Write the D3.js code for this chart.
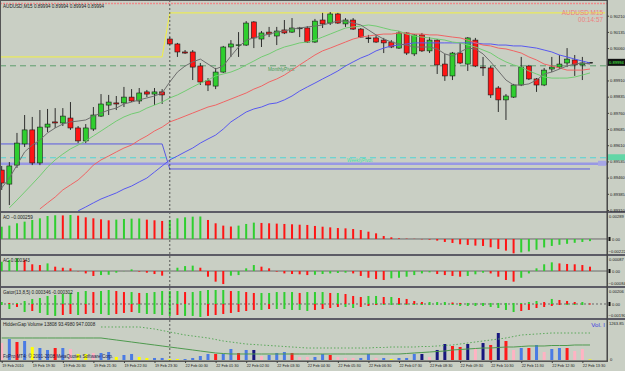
<!DOCTYPE html>
<html>
<head>
<meta charset="utf-8">
<script src="https://cdn.jsdelivr.net/npm/d3@7"></script>
<style>
body { margin: 0; background: #c9cfc4; }
svg { display: block; }
text { font-family: "Liberation Sans", Arial, sans-serif; }
</style>
</head>
<body>
<script>
//Chart data
var symbolName = "AUDUSD,M15";
var lastPrice = 0.89994;
var clockText = "00:14:57";

var timeLabels = ["19 Feb 2010", "19 Feb 19:30", "19 Feb 20:30", "19 Feb 21:30", "19 Feb 22:30",
  "19 Feb 23:30", "22 Feb 00:30", "22 Feb 01:30", "22 Feb 02:30", "22 Feb 03:30", "22 Feb 04:30",
  "22 Feb 05:30", "22 Feb 06:30", "22 Feb 07:30", "22 Feb 08:30", "22 Feb 09:30", "22 Feb 10:30",
  "22 Feb 11:30", "22 Feb 12:30", "22 Feb 13:30"];
var labelEvery = 4;          //one time label every 4 bars (1 hour)
var dayStartBar = [0, 22];   //first bar of 19 Feb and of 22 Feb

var priceTicks = [0.90210, 0.90135, 0.90060, 0.89985, 0.89910, 0.89835, 0.89760,
  0.89685, 0.89610, 0.89535, 0.89460, 0.89385, 0.89310];

var candleOpen = [0.89495,0.89430,0.89518,0.89616,0.89681,0.89528,0.89694,0.89718,0.89713,0.89736,
  0.89690,0.89630,0.89685,0.89745,0.89796,0.89806,0.89806,0.89833,0.89815,0.89857,
  0.89847,0.89857,0.90102,0.90079,0.90042,0.90042,0.89977,0.89908,0.89884,0.89949,
  0.90065,0.90074,0.90074,0.90181,0.90102,0.90134,0.90116,0.90144,0.90134,0.90153,
  0.90153,0.90088,0.90190,0.90176,0.90218,0.90172,0.90190,0.90148,0.90107,0.90107,
  0.90097,0.90088,0.90060,0.90130,0.90033,0.90121,0.90047,0.90097,0.89986,0.89931,
  0.90037,0.89986,0.90097,0.89972,0.89968,0.89875,0.89820,0.89833,0.89889,0.89977,
  0.89917,0.89889,0.89963,0.89972,0.89991,0.90005,0.89982,0.89994];
var candleHigh = [0.89514,0.89532,0.89667,0.89750,0.89741,0.89773,0.89778,0.89782,0.89782,0.89810,
  0.89699,0.89708,0.89787,0.89847,0.89843,0.89838,0.89880,0.89870,0.89875,0.89866,
  0.89875,0.89870,0.90111,0.90084,0.90051,0.90051,0.89991,0.89921,0.89968,0.90070,
  0.90097,0.90134,0.90185,0.90185,0.90139,0.90158,0.90158,0.90190,0.90199,0.90158,
  0.90162,0.90195,0.90223,0.90227,0.90223,0.90199,0.90199,0.90153,0.90121,0.90121,
  0.90107,0.90097,0.90139,0.90134,0.90125,0.90130,0.90111,0.90102,0.90033,0.90042,
  0.90084,0.90111,0.90107,0.90019,0.89977,0.89884,0.89847,0.89894,0.90019,0.89982,
  0.89921,0.89968,0.90019,0.90028,0.90060,0.90028,0.90019,0.89994];
var candleLow = [0.89403,0.89333,0.89505,0.89602,0.89518,0.89518,0.89671,0.89690,0.89699,0.89681,
  0.89620,0.89620,0.89676,0.89741,0.89750,0.89773,0.89787,0.89810,0.89801,0.89833,
  0.89796,0.89801,0.90074,0.90019,0.90033,0.89912,0.89889,0.89861,0.89870,0.89945,
  0.90019,0.90019,0.90070,0.90060,0.90065,0.90111,0.90074,0.90125,0.90130,0.90111,
  0.90084,0.90084,0.90153,0.90167,0.90172,0.90158,0.90144,0.90107,0.90084,0.90084,
  0.90037,0.90060,0.90056,0.90028,0.90023,0.90042,0.90037,0.89940,0.89908,0.89912,
  0.89986,0.89954,0.89972,0.89931,0.89829,0.89764,0.89727,0.89829,0.89884,0.89912,
  0.89857,0.89884,0.89949,0.89963,0.89972,0.89931,0.89912,0.89994];
var candleClose = [0.89435,0.89514,0.89620,0.89681,0.89528,0.89694,0.89708,0.89713,0.89745,0.89690,
  0.89630,0.89690,0.89750,0.89801,0.89810,0.89801,0.89833,0.89815,0.89852,0.89847,
  0.89857,0.89843,0.90079,0.90042,0.90037,0.89972,0.89903,0.89889,0.89949,0.90065,
  0.90079,0.90075,0.90176,0.90107,0.90130,0.90125,0.90139,0.90130,0.90153,0.90153,
  0.90088,0.90185,0.90172,0.90218,0.90176,0.90190,0.90148,0.90111,0.90107,0.90088,
  0.90084,0.90065,0.90130,0.90037,0.90121,0.90047,0.90097,0.89982,0.89931,0.90037,
  0.89991,0.90107,0.89977,0.89968,0.89843,0.89820,0.89838,0.89889,0.89972,0.89917,
  0.89889,0.89958,0.89972,0.89986,0.90009,0.89982,0.89991,0.89994];

//moving averages drawn on the price window (null = off the window)
var maGray = [0.89412,0.89458,0.89518,0.89579,0.89611,0.89634,0.89667,0.89690,0.89708,0.89718,
  0.89722,0.89727,0.89745,0.89759,0.89773,0.89782,0.89801,0.89810,0.89820,0.89829,
  0.89838,0.89852,0.89903,0.89949,0.89977,0.89996,0.90009,0.89986,0.89963,0.89977,
  0.90023,0.90065,0.90097,0.90107,0.90116,0.90125,0.90134,0.90139,0.90148,0.90153,
  0.90158,0.90162,0.90167,0.90176,0.90185,0.90185,0.90176,0.90167,0.90144,0.90121,
  0.90102,0.90088,0.90079,0.90074,0.90065,0.90065,0.90065,0.90056,0.90033,0.90023,
  0.90042,0.90060,0.90056,0.90033,0.89996,0.89954,0.89912,0.89889,0.89889,0.89894,
  0.89912,0.89940,0.89949,0.89963,0.89977,0.89986,0.89991,0.89986];
var maGreen = [null,0.89320,0.89356,0.89393,0.89430,0.89468,0.89509,0.89542,0.89569,0.89593,
  0.89611,0.89630,0.89653,0.89676,0.89699,0.89722,0.89741,0.89755,0.89764,0.89782,
  0.89796,0.89810,0.89829,0.89843,0.89861,0.89880,0.89898,0.89912,0.89931,0.89940,
  0.89949,0.89963,0.89982,0.90000,0.90019,0.90033,0.90051,0.90065,0.90074,0.90084,
  0.90088,0.90097,0.90111,0.90125,0.90139,0.90153,0.90158,0.90162,0.90167,0.90162,
  0.90153,0.90144,0.90139,0.90125,0.90116,0.90111,0.90107,0.90102,0.90097,0.90088,
  0.90084,0.90074,0.90065,0.90051,0.90037,0.90014,0.89996,0.89982,0.89972,0.89954,
  0.89940,0.89926,0.89921,0.89921,0.89921,0.89926,0.89935,0.89945];
var maRed = [null,null,null,null,null,0.89315,0.89343,0.89370,0.89403,0.89426,
  0.89449,0.89481,0.89518,0.89542,0.89560,0.89579,0.89597,0.89611,0.89634,0.89653,
  0.89676,0.89694,0.89718,0.89731,0.89745,0.89759,0.89773,0.89787,0.89796,0.89810,
  0.89824,0.89838,0.89852,0.89870,0.89884,0.89903,0.89917,0.89935,0.89958,0.89982,
  0.90005,0.90028,0.90047,0.90060,0.90074,0.90088,0.90102,0.90111,0.90116,0.90121,
  0.90125,0.90125,0.90130,0.90130,0.90125,0.90125,0.90121,0.90121,0.90116,0.90111,
  0.90107,0.90097,0.90084,0.90074,0.90070,0.90060,0.90056,0.90047,0.90037,0.90019,
  0.90005,0.89986,0.89977,0.89968,0.89958,0.89958,0.89958,0.89963];
var maBlue = [null,null,null,null,null,null,null,null,null,null,
  0.89306,0.89324,0.89343,0.89361,0.89375,0.89389,0.89407,0.89421,0.89440,0.89458,
  0.89486,0.89514,0.89542,0.89560,0.89579,0.89597,0.89620,0.89639,0.89657,0.89685,
  0.89718,0.89741,0.89764,0.89778,0.89787,0.89801,0.89806,0.89820,0.89838,0.89861,
  0.89880,0.89898,0.89917,0.89935,0.89954,0.89977,0.89996,0.90014,0.90028,0.90047,
  0.90060,0.90070,0.90074,0.90079,0.90084,0.90084,0.90084,0.90084,0.90084,0.90084,
  0.90084,0.90084,0.90084,0.90079,0.90079,0.90074,0.90074,0.90070,0.90070,0.90065,
  0.90060,0.90051,0.90042,0.90028,0.90019,0.90009,0.90000,0.89991];

//horizontal levels
var topLevel = 0.90267;                 //red dotted line at the top
var yellowLevel = [0.90019, 0.90223];   //one per day
var blueLevel = [0.89616, 0.89500];     //one per day
var monthPivot = 0.89978;
var weekPivot = 0.89552;
var weekLevel = 0.89524;

//AO, AC and Gator windows
var aoValues = [0.00148,0.00161,0.00189,0.00209,0.00229,0.00249,0.00277,0.00286,0.00284,0.00289,
  0.00281,0.00261,0.00249,0.00237,0.00225,0.00233,0.00241,0.00245,0.00247,0.00233,
  0.00225,0.00217,0.00229,0.00249,0.00261,0.00269,0.00271,0.00229,0.00189,0.00161,
  0.00150,0.00161,0.00181,0.00197,0.00193,0.00189,0.00185,0.00181,0.00177,0.00172,
  0.00169,0.00157,0.00148,0.00140,0.00132,0.00128,0.00120,0.00108,0.00088,0.00068,
  0.00036,0.00020,0.00008,0.00004,0.00002,-0.00004,-0.00008,-0.00020,-0.00036,-0.00048,
  -0.00064,-0.00072,-0.00080,-0.00084,-0.00100,-0.00120,-0.00140,-0.00173,-0.00162,-0.00150,
  -0.00130,-0.00102,-0.00084,-0.00070,-0.00058,-0.00046,-0.00036,-0.00026];
var aoRange = [-0.00222, 0.00289];

var acValues = [0.00062,0.00074,0.00085,0.00074,0.00045,0.00040,0.00051,0.00029,0.00022,0.00018,
  -0.00002,-0.00016,-0.00033,-0.00027,-0.00025,-0.00011,-0.00001,0.00011,-0.00004,-0.00011,
  -0.00020,-0.00031,0.00002,0.00022,0.00033,0.00036,0.00022,-0.00038,-0.00071,-0.00087,
  -0.00031,-0.00027,0.00018,0.00040,0.00029,0.00018,-0.00004,-0.00016,-0.00020,-0.00022,
  -0.00027,-0.00025,-0.00020,-0.00016,-0.00013,-0.00011,-0.00016,-0.00033,-0.00045,-0.00054,
  -0.00060,-0.00049,-0.00045,-0.00038,-0.00027,-0.00016,-0.00009,-0.00020,-0.00027,-0.00033,
  -0.00038,-0.00033,-0.00022,-0.00011,-0.00016,-0.00038,-0.00060,-0.00071,-0.00045,-0.00016,
  0.00018,0.00045,0.00058,0.00051,0.00047,0.00045,0.00040,0.00029];
var acRange = [-0.00084, 0.00087];

var gatorUp = [0.00029,0.00015,0.00015,0.00044,0.00074,0.00088,0.00118,0.00132,0.00147,0.00162,
  0.00176,0.00191,0.00176,0.00191,0.00206,0.00191,0.00176,0.00176,0.00162,0.00162,
  0.00176,0.00191,0.00191,0.00191,0.00176,0.00176,0.00191,0.00206,0.00206,0.00206,
  0.00191,0.00191,0.00176,0.00162,0.00162,0.00162,0.00176,0.00176,0.00176,0.00162,
  0.00176,0.00176,0.00176,0.00162,0.00162,0.00147,0.00118,0.00103,0.00118,0.00118,
  0.00103,0.00103,0.00088,0.00074,0.00044,0.00029,0.00029,0.00029,0.00029,0.00022,
  0.00015,0.00015,0.00015,0.00015,0.00015,0.00015,0.00015,0.00015,0.00015,0.00029,
  0.00044,0.00029,0.00074,0.00059,0.00044,0.00029,0.00029,0.00007];
var gatorDown = [-0.00015,-0.00074,-0.00044,-0.00118,-0.00103,-0.00132,-0.00162,-0.00176,-0.00162,-0.00147,
  -0.00162,-0.00147,-0.00132,-0.00147,-0.00162,-0.00147,-0.00132,-0.00118,-0.00132,-0.00147,
  -0.00147,-0.00162,-0.00176,-0.00162,-0.00176,-0.00176,-0.00191,-0.00176,-0.00162,-0.00147,
  -0.00132,-0.00118,-0.00103,-0.00088,-0.00088,-0.00074,-0.00074,-0.00074,-0.00088,-0.00088,
  -0.00103,-0.00088,-0.00074,-0.00059,-0.00044,-0.00044,-0.00059,-0.00044,-0.00029,-0.00015,
  -0.00015,-0.00015,-0.00015,-0.00015,-0.00015,-0.00015,-0.00015,-0.00015,-0.00015,-0.00015,
  -0.00029,-0.00029,-0.00029,-0.00029,-0.00044,-0.00059,-0.00088,-0.00118,-0.00103,-0.00088,
  -0.00059,-0.00044,-0.00029,-0.00015,-0.00015,-0.00015,-0.00015,-0.00007];
var gatorRange = [-0.00190, 0.00206];

//volume window
var volumeValues = [565,698,599,632,432,399,333,399,399,366,
  200,200,233,233,266,100,166,200,100,67,
  67,67,33,33,33,67,133,200,200,200,
  366,233,333,333,133,166,233,266,233,100,
  100,100,200,166,100,67,67,67,200,67,
  67,33,67,67,200,200,100,333,532,466,
  432,532,399,565,499,898,632,333,399,399,
  499,266,366,399,399,299,366,20];
var volumeType = ["p","b","r","b","y","b","b","r","b","p",
  "y","y","p","b","b","y","b","b","y","y",
  "b","b","y","y","b","b","b","b","r","b",
  "b","r","b","n","p","b","b","b","r","p",
  "p","b","b","r","p","p","p","b","b","p",
  "b","y","b","b","b","n","p","n","n","r",
  "r","n","p","n","r","n","r","p","b","r",
  "b","p","b","b","r","p","p","y"];
var volumeAvg = [732,732,732,732,732,732,732,732,732,732,
  732,732,732,732,698,665,632,599,565,532,
  499,466,432,399,366,333,299,266,233,216,
  200,200,200,200,200,200,200,200,200,200,
  200,200,200,200,200,200,200,200,200,200,
  200,200,200,216,233,249,266,283,299,333,
  349,366,382,399,399,416,432,432,449,466,
  466,466,482,482,482,499,499,499];
var volumeSlow = [null,null,null,null,null,null,null,null,null,null,
  null,null,null,1098,1098,1098,1098,1098,1098,1064,
  1031,981,931,881,832,798,765,732,682,632,
  599,565,532,516,499,482,466,449,432,416,
  399,399,399,399,399,399,399,399,399,416,
  416,432,432,432,432,449,449,466,482,499,
  532,565,599,632,665,698,732,782,832,848,
  865,881,898,898,898,898,898,898];
var volumeMax = 1263.85;

//Layout
var w = 625;
var h = 371;
var axisX = 607;
var panels = {
  main:  [1, 211],
  ao:    [213, 254],
  ac:    [256, 286],
  gator: [288, 318],
  vol:   [320, 361]
};
var axisFont = 4.1;

var green = "#2fcf2f", red = "#ff1414", ink = "#1c1c1c";
var volColors = { b: "#4a7be4", n: "#16167e", r: "#ff1a1a", p: "#ffb3c3", y: "#ffff00" };

var bars = d3.range(candleOpen.length);
var fmt5 = d3.format(".5f");

//Scales
var xScale = d3.scaleLinear().domain([0, bars.length - 1]).range([1.7, 590]);
var yPrice = d3.scaleLinear().domain([0.89310, 0.90210]).range([210, 15.7]);
var yAO = d3.scaleLinear().domain(aoRange).range([257.4, 215]);
var yAC = d3.scaleLinear().domain(acRange).range([283.6, 258]);
var yGator = d3.scaleLinear().domain(gatorRange).range([316.9, 290]);
var yVol = d3.scaleLinear().domain([0, volumeMax]).range([360, 322]);

//Create SVG element
var svg = d3.select("body")
  .append("svg")
  .attr("width", w)
  .attr("height", h);

svg.append("rect").attr("width", w).attr("height", h).attr("fill", "#c9cfc4");

var defs = svg.append("defs");
Object.keys(panels).forEach(function(k) {
  defs.append("clipPath").attr("id", "clip-" + k)
    .append("rect")
    .attr("x", 0).attr("y", panels[k][0])
    .attr("width", axisX).attr("height", panels[k][1] - panels[k][0]);
});

function panelG(k) {
  return svg.append("g").attr("clip-path", "url(#clip-" + k + ")");
}

// ---------- price window ----------
var main = panelG("main");

//levels that change from one day to the next
function stepPath(levels, lastX) {
  var pts = [];
  levels.forEach(function(v, d) {
    var start = d === 0 ? 0 : xScale(dayStartBar[d]);
    var end = d === levels.length - 1 ? lastX : xScale(dayStartBar[d + 1] - 1);
    pts.push([start, yPrice(v)], [end, yPrice(v)]);
  });
  return d3.line()(pts);
}

main.append("line")
  .attr("x1", 0).attr("x2", axisX)
  .attr("y1", yPrice(topLevel)).attr("y2", yPrice(topLevel))
  .attr("stroke", "#ee8a8a").attr("stroke-width", 1.5).attr("stroke-dasharray", "2,1");

main.append("path")
  .attr("d", stepPath(yellowLevel, axisX - 2))
  .attr("fill", "none").attr("stroke", "#f2f040").attr("stroke-width", 1);

main.append("path")
  .attr("d", stepPath(blueLevel, xScale(bars.length - 1)))
  .attr("fill", "none").attr("stroke", "#5a5ae0").attr("stroke-width", 1);

main.append("line")
  .attr("x1", 0).attr("x2", axisX)
  .attr("y1", yPrice(monthPivot)).attr("y2", yPrice(monthPivot))
  .attr("stroke", "#5e9e6e").attr("stroke-width", 1).attr("stroke-dasharray", "6,4");

main.append("line")
  .attr("x1", 0).attr("x2", axisX)
  .attr("y1", yPrice(weekPivot)).attr("y2", yPrice(weekPivot))
  .attr("stroke", "#52d4d4").attr("stroke-width", 1).attr("stroke-dasharray", "6,4");

main.append("line")
  .attr("x1", 0).attr("x2", axisX)
  .attr("y1", yPrice(weekLevel)).attr("y2", yPrice(weekLevel))
  .attr("stroke", "#9898e4").attr("stroke-width", 2.5);

main.append("rect")
  .attr("x", 598).attr("y", yPrice(weekLevel) - 3)
  .attr("width", 8).attr("height", 5).attr("fill", "#a6a6e6");

main.append("text")
  .attr("x", 268).attr("y", yPrice(monthPivot) + 5)
  .attr("font-size", 4.6).attr("fill", "#3f9a55")
  .text("MonthlyPivot");

main.append("text")
  .attr("x", 347).attr("y", yPrice(weekPivot) + 4)
  .attr("font-size", 4.6).attr("fill", "#3ee0a8")
  .text("WeeklyPivot");

//Candles
var candles = main.append("g");
candles.selectAll("line")
  .data(bars)
  .enter()
  .append("line")
  .attr("x1", i => xScale(i))
  .attr("x2", i => xScale(i))
  .attr("y1", i => yPrice(candleHigh[i]))
  .attr("y2", i => yPrice(candleLow[i]))
  .attr("stroke", ink)
  .attr("stroke-width", 0.9);

candles.selectAll("rect")
  .data(bars)
  .enter()
  .append("rect")
  .attr("x", i => xScale(i) - 2.5)
  .attr("y", i => yPrice(Math.max(candleOpen[i], candleClose[i])))
  .attr("width", 5)
  .attr("height", i => Math.max(0.8, Math.abs(yPrice(candleOpen[i]) - yPrice(candleClose[i]))))
  .attr("fill", function(i) {
    if (candleClose[i] > candleOpen[i]) return green;
    if (candleClose[i] < candleOpen[i]) return red;
    return ink;
  })
  .attr("stroke", ink)
  .attr("stroke-width", 0.6);

//Moving averages, drawn over the candles
var maLine = function(series) {
  return d3.line()
    .defined(i => series[i] != null)
    .x(i => xScale(i))
    .y(i => yPrice(series[i]))(bars);
};
[[maBlue, "#5858f0"], [maRed, "#f06464"], [maGreen, "#72cc72"], [maGray, "#6e6e6e"]]
  .forEach(function(m) {
    main.append("path")
      .attr("d", maLine(m[0]))
      .attr("fill", "none")
      .attr("stroke", m[1])
      .attr("stroke-width", 1);
  });

main.append("text")
  .attr("x", 3).attr("y", 8)
  .attr("font-size", 4.6).attr("fill", ink)
  .text(symbolName + "  " + [lastPrice, lastPrice, lastPrice, lastPrice].map(fmt5).join(" "));

main.append("text")
  .attr("x", 603).attr("y", 15)
  .attr("text-anchor", "end")
  .attr("font-size", 6.4).attr("fill", "#ee8080")
  .text(symbolName.replace(",", " "));

main.append("text")
  .attr("x", 603).attr("y", 22)
  .attr("text-anchor", "end")
  .attr("font-size", 6.4).attr("fill", "#ee8080")
  .text(clockText);

// ---------- histogram windows ----------
function histogram(g, values, yS, colorOf) {
  g.selectAll("rect.bar")
    .data(bars)
    .enter()
    .append("rect")
    .attr("class", "bar")
    .attr("x", i => xScale(i) - 1)
    .attr("y", i => Math.min(yS(0), yS(values[i])))
    .attr("width", 2)
    .attr("height", i => Math.abs(yS(values[i]) - yS(0)))
    .attr("fill", colorOf);
}

function zeroLine(g, yS, dash) {
  g.append("line")
    .attr("x1", 0).attr("x2", axisX)
    .attr("y1", yS(0)).attr("y2", yS(0))
    .attr("stroke", "#6a6a6a").attr("stroke-width", 1)
    .attr("stroke-dasharray", dash || null);
}

//rising bar green, falling bar red
function upDownColor(values) {
  return function(i) { return i === 0 || values[i] > values[i - 1] ? green : red; };
}

var gAO = panelG("ao");
zeroLine(gAO, yAO);
histogram(gAO, aoValues, yAO, upDownColor(aoValues));

var gAC = panelG("ac");
zeroLine(gAC, yAC);
histogram(gAC, acValues, yAC, upDownColor(acValues));

var gGator = panelG("gator");
zeroLine(gGator, yGator, "2,2");
histogram(gGator, gatorUp, yGator, function(i) {
  return i === 0 || gatorUp[i] >= gatorUp[i - 1] ? green : red;
});
gGator.selectAll("rect.low")
  .data(bars)
  .enter()
  .append("rect")
  .attr("class", "low")
  .attr("x", i => xScale(i) - 1)
  .attr("y", yGator(0))
  .attr("width", 2)
  .attr("height", i => yGator(gatorDown[i]) - yGator(0))
  .attr("fill", i => i === 0 || gatorDown[i] <= gatorDown[i - 1] ? green : red);

// ---------- volume window ----------
var gVol = panelG("vol");
gVol.selectAll("rect")
  .data(bars)
  .enter()
  .append("rect")
  .attr("x", i => xScale(i) - 1.5)
  .attr("y", i => yVol(volumeValues[i]))
  .attr("width", 3)
  .attr("height", i => yVol(0) - yVol(volumeValues[i]))
  .attr("fill", i => volColors[volumeType[i]]);

gVol.append("path")
  .attr("d", d3.line().x(i => xScale(i)).y(i => yVol(volumeAvg[i]))(bars))
  .attr("fill", "none").attr("stroke", "#4e9a4e").attr("stroke-width", 1);

gVol.append("path")
  .attr("d", d3.line().defined(i => volumeSlow[i] != null)
    .x(i => xScale(i)).y(i => yVol(volumeSlow[i]))(bars))
  .attr("fill", "none").attr("stroke", "#5aa85a").attr("stroke-width", 1)
  .attr("stroke-dasharray", "1.5,2");

// ---------- window titles ----------
var titles = [
  ["ao", "AO " + d3.format(".6f")(-0.000259)],
  ["ac", "AC " + d3.format(".6f")(0.000343)],
  ["gator", "Gator(13,8,5) 0.000346 -0.000302"],
  ["vol", "HiddenGap Volume 13808 93.4980 947.0008"]
];
titles.forEach(function(t) {
  svg.append("text")
    .attr("x", 3).attr("y", panels[t[0]][0] + 6)
    .attr("font-size", 4.6).attr("fill", ink)
    .text(t[1]);
});

svg.append("text")
  .attr("x", 3).attr("y", 358)
  .attr("font-size", 4.6).attr("fill", "#20204a")
  .text("FxPro MT4: \u00a9 2001-2008 MetaQuotes Software Corp.");

svg.append("text")
  .attr("x", 605).attr("y", 327)
  .attr("text-anchor", "end")
  .attr("font-size", 6.2).attr("fill", "#3a3ae0")
  .text("Vol.  I");

// ---------- frames and separators ----------
svg.append("line")
  .attr("x1", xScale(dayStartBar[1])).attr("x2", xScale(dayStartBar[1]))
  .attr("y1", 0).attr("y2", 361)
  .attr("stroke", "#3a3a3a").attr("stroke-width", 0.8).attr("stroke-dasharray", "2,2");

[212, 255, 287, 319].forEach(function(y) {
  svg.append("line")
    .attr("x1", 0).attr("x2", w)
    .attr("y1", y).attr("y2", y)
    .attr("stroke", "#5c5c66").attr("stroke-width", 2);
});
svg.append("line")
  .attr("x1", 0).attr("x2", axisX).attr("y1", 361).attr("y2", 361)
  .attr("stroke", "#4a4a4a").attr("stroke-width", 1);
svg.append("rect")
  .attr("x", 0.5).attr("y", 0.5).attr("width", axisX).attr("height", 361)
  .attr("fill", "none").attr("stroke", "#555").attr("stroke-width", 1);

// ---------- axes ----------
function styleAxis(g) {
  g.selectAll("path.domain").attr("stroke", "#404040");
  g.selectAll(".tick line").attr("stroke", "#404040");
  g.selectAll(".tick text").attr("font-size", axisFont).attr("fill", ink)
    .attr("font-family", "Liberation Sans, Arial, sans-serif");
}

//the label under the current-price box is hidden by it
var priceAxis = d3.axisRight(yPrice)
  .tickValues(priceTicks)
  .tickSize(2)
  .tickPadding(1)
  .tickFormat(d => Math.abs(yPrice(d) - yPrice(lastPrice)) < 5 ? "" : fmt5(d));
svg.append("g")
  .attr("transform", "translate(" + axisX + ",0)")
  .call(priceAxis)
  .call(styleAxis)
  .call(g => g.select("path.domain").remove());

svg.append("line")
  .attr("x1", axisX).attr("x2", axisX).attr("y1", 0).attr("y2", 361)
  .attr("stroke", "#404040").attr("stroke-width", 1);

//current price and pivot price boxes
svg.append("rect")
  .attr("x", axisX + 1).attr("y", yPrice(lastPrice) - 3.5)
  .attr("width", w - axisX).attr("height", 7).attr("fill", "#101010");
svg.append("text")
  .attr("x", axisX + 2).attr("y", yPrice(lastPrice) + 1.6)
  .attr("font-size", axisFont).attr("fill", "#4cff4c")
  .text(fmt5(lastPrice));
svg.append("rect")
  .attr("x", axisX + 1).attr("y", yPrice(weekPivot) - 3.5)
  .attr("width", w - axisX).attr("height", 6).attr("fill", "#62d6a6");

//sub-window scales: max at the top, 0.00, min at the bottom
[["ao", yAO], ["ac", yAC], ["gator", yGator]].forEach(function(p) {
  var yS = p[1], top = panels[p[0]][0], bottom = panels[p[0]][1];
  var dom = yS.domain();
  svg.append("text").attr("x", axisX + 2).attr("y", top + 4.5)
    .attr("font-size", axisFont).attr("fill", ink).text(fmt5(dom[1]));
  svg.append("text").attr("x", axisX + 1.5).attr("y", bottom - 1)
    .attr("font-size", axisFont).attr("fill", ink).text(fmt5(dom[0]));
  svg.append("rect").attr("x", axisX + 1.5).attr("y", yS(0) - 2)
    .attr("width", 2).attr("height", 4).attr("fill", "#101010");
  svg.append("text").attr("x", axisX + 5).attr("y", yS(0) + 1.6)
    .attr("font-size", axisFont).attr("fill", ink).text("0.00");
});
svg.append("text").attr("x", axisX + 2).attr("y", panels.vol[0] + 4.5)
  .attr("font-size", axisFont).attr("fill", ink).text(d3.format(".2f")(volumeMax));
svg.append("text").attr("x", axisX + 3).attr("y", yVol(0) + 1)
  .attr("font-size", axisFont).attr("fill", ink).text("0");

//Time axis
var timeAxis = d3.axisBottom(xScale)
  .tickValues(d3.range(0, bars.length, labelEvery))
  .tickSize(2)
  .tickPadding(1)
  .tickFormat((d, i) => timeLabels[i]);
svg.append("g")
  .attr("transform", "translate(0,361)")
  .call(timeAxis)
  .call(styleAxis)
  .call(g => g.select("path.domain").remove())
  .call(g => g.selectAll(".tick text").attr("text-anchor", "start").attr("font-size", 3.8));
</script>
</body>
</html>
